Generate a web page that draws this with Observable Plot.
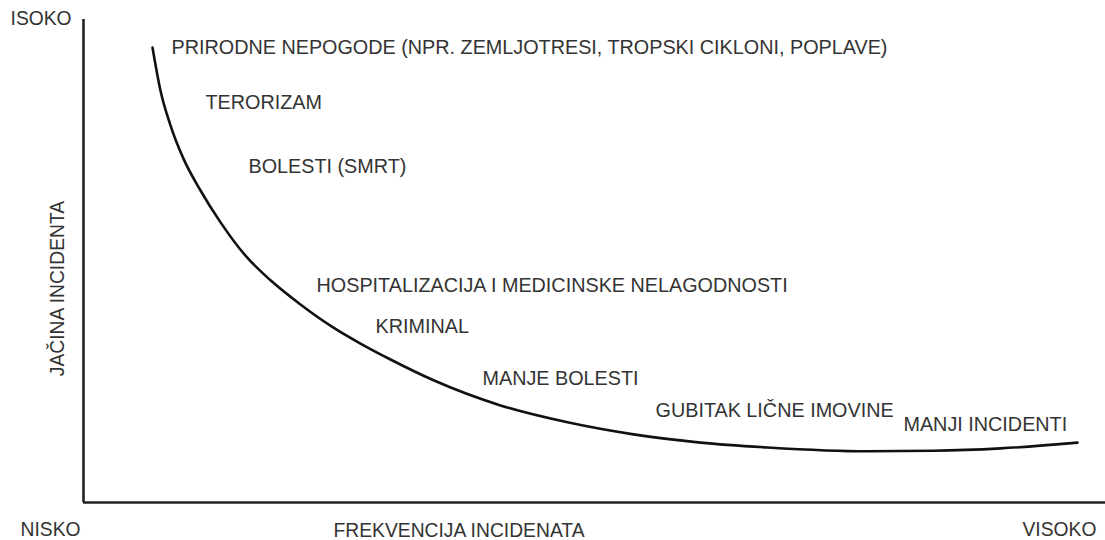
<!DOCTYPE html>
<html>
<head>
<meta charset="utf-8">
<script src="https://cdn.jsdelivr.net/npm/d3@7"></script>
<script src="https://cdn.jsdelivr.net/npm/@observablehq/plot@0.6"></script>
<style>
  html, body { margin: 0; padding: 0; background: #fff; }
  #chart svg { display: block; }
</style>
</head>
<body>
<div id="chart"></div>
<script>
// Curve: frequency (x, 0–100) vs severity (y, 0–100)
const curveFreq = [6.75, 7.53, 8.51, 9.78, 11.45, 13.41, 15.85, 18.30, 21.23, 24.46, 27.10, 30.04, 34.25, 40.80, 47.36, 53.82, 60.37, 66.93, 76.71, 83.17, 89.73, 97.26];
const curveSev  = [94.2, 85.3, 78.1, 71.2, 64.6, 58.0, 51.1, 46.0, 41.0, 36.2, 32.9, 29.6, 25.3, 20.1, 16.6, 14.1, 12.4, 11.4, 10.6, 10.7, 11.2, 12.4];

// Incident categories and their label anchors (frequency, severity)
const incidents = [
  "PRIRODNE NEPOGODE (NPR. ZEMLJOTRESI, TROPSKI CIKLONI, POPLAVE)",
  "TERORIZAM",
  "BOLESTI (SMRT)",
  "HOSPITALIZACIJA I MEDICINSKE NELAGODNOSTI",
  "KRIMINAL",
  "MANJE BOLESTI",
  "GUBITAK LIČNE IMOVINE",
  "MANJI INCIDENTI"
];
const incidentFreq = [8.61, 11.94, 16.14, 22.80, 28.57, 39.04, 55.97, 80.23];
const incidentSev  = [94.2, 82.8, 69.6, 44.9, 36.4, 25.7, 19.0, 16.1];

// Axis texts
const yAxisTitle = "JAČINA INCIDENTA";
const xAxisTitle = "FREKVENCIJA INCIDENATA";
const yHighLabel = "ISOKO";
const xLowLabel = "NISKO";
const xHighLabel = "VISOKO";

const curve = curveFreq.map((f, i) => ({f, s: curveSev[i]}));
const labels = incidents.map((t, i) => ({t, f: incidentFreq[i], s: incidentSev[i]}));
const cornerLabels = [
  {t: yHighLabel, f: -7.14, s: 100.2},
  {t: xLowLabel, f: -6.16, s: -5.6},
  {t: xHighLabel, f: 91.88, s: -5.6},
  {t: xAxisTitle, f: 24.46, s: -5.8}
];

const font = "'Liberation Sans', Arial, sans-serif";
const textColor = "#333";

const chart = Plot.plot({
  width: 1105,
  height: 540,
  marginLeft: 83,
  marginRight: 0,
  marginTop: 19,
  marginBottom: 38,
  x: {domain: [0, 100], axis: null},
  y: {domain: [0, 100], axis: null},
  style: {fontFamily: font, background: "#fff", overflow: "visible"},
  marks: [
    Plot.ruleX([0], {y1: 0, y2: 100, stroke: "#222", strokeWidth: 2.6}),
    Plot.ruleY([0], {x1: 0, x2: 100, stroke: "#222", strokeWidth: 2.6}),
    Plot.line(curve, {x: "f", y: "s", curve: "monotone-x", stroke: "#111", strokeWidth: 2.6}),
    Plot.text(labels, {x: "f", y: "s", text: "t", textAnchor: "start", fontSize: 19.8, fill: textColor}),
    Plot.text(cornerLabels, {x: "f", y: "s", text: "t", textAnchor: "start", fontSize: 19.3, fill: textColor}),
    Plot.text([yAxisTitle], {x: -2.54, y: 44.3, text: d => d, rotate: -90, textAnchor: "middle", fontSize: 19.3, fill: textColor})
  ]
});
document.getElementById("chart").appendChild(chart);
</script>
</body>
</html>
